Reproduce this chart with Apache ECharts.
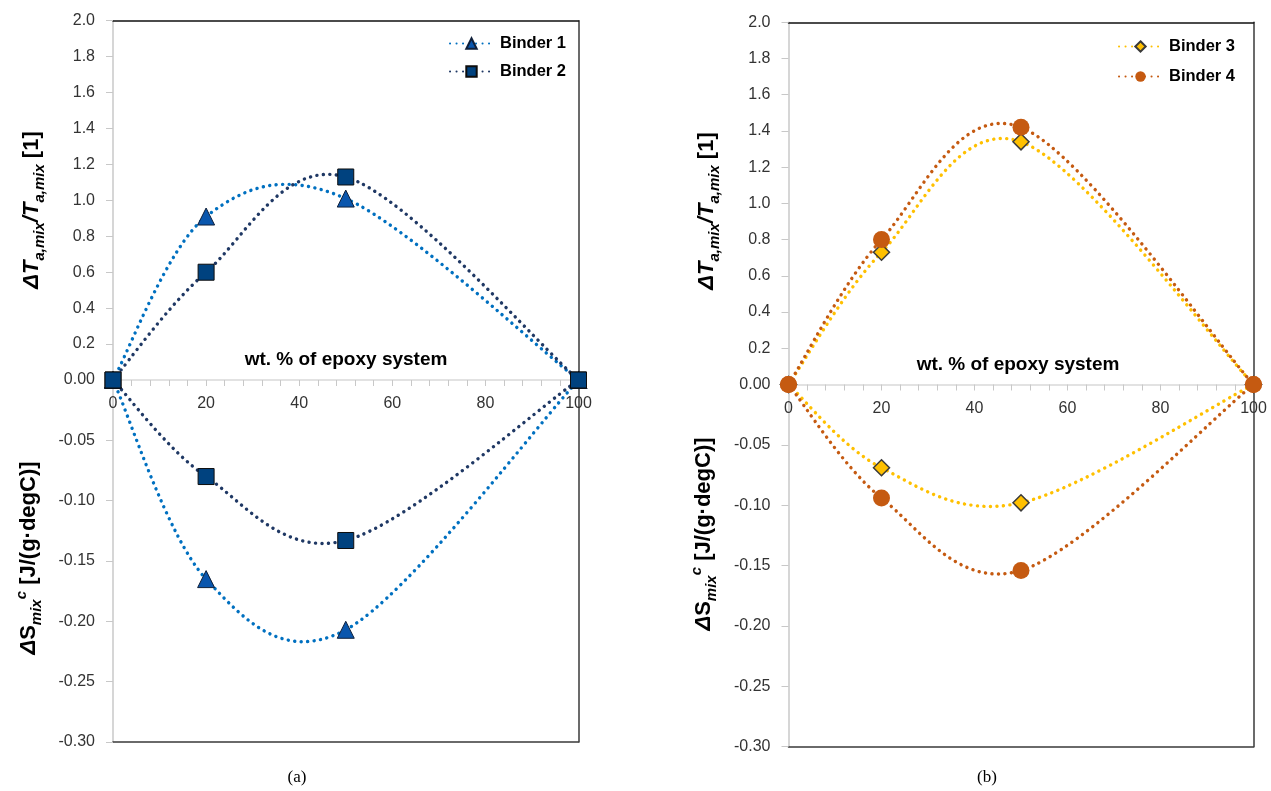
<!DOCTYPE html>
<html>
<head>
<meta charset="utf-8">
<title>Mixing effects of epoxy system content</title>
<script src="https://cdn.jsdelivr.net/npm/echarts@6/dist/echarts.min.js"></script>
<style>
  html, body { margin: 0; padding: 0; background: #fff; }
  #chart { width: 1271px; height: 791px; }
</style>
</head>
<body>
<div id="chart"></div>
<script>
// wt. % of epoxy system in the binder
const wtPct = [0, 20, 50, 100];

// ΔTa,mix / Ta,mix [1]
const binder1DT = [0, 0.91, 1.01, 0];
const binder2DT = [0, 0.60, 1.13, 0];
const binder3DT = [0, 0.73, 1.34, 0];
const binder4DT = [0, 0.80, 1.42, 0];

// ΔSmix^c [J/(g·degC)]
const binder1DS = [0, -0.165, -0.207, 0];
const binder2DS = [0, -0.080, -0.133, 0];
const binder3DS = [0, -0.069, -0.098, 0];
const binder4DS = [0, -0.094, -0.154, 0];

// axis ranges
const xRange = { min: 0, max: 100, step: 20 };
const dtRange = { min: 0, max: 2.0, step: 0.2 };
const dsRange = { min: -0.30, max: 0, step: 0.05 };

const FONT = '"Liberation Sans", Arial, sans-serif';
const AXIS_GRAY = '#c8c8c8';
const FRAME = '#3a3a3a';
const DOT_WIDTH = 3.4;
const DOTS = [0.1, 6.4];

const pairs = (ys) => wtPct.map((x, i) => [x, ys[i]]);

function bottomAxis(gridIndex, withLabels) {
  return {
    type: 'value', gridIndex, position: 'bottom',
    min: xRange.min, max: xRange.max, interval: xRange.step,
    axisLine: { show: true, onZero: false, lineStyle: { color: withLabels ? '#d9d9d9' : FRAME, width: 1.5 } },
    axisTick: { show: withLabels, length: 6, lineStyle: { color: '#c8c8c8' } },
    minorTick: { show: withLabels, splitNumber: 5, length: 6, lineStyle: { color: '#c8c8c8' } },
    axisLabel: { show: withLabels, margin: 16, color: '#333', fontSize: 16, fontFamily: FONT },
    splitLine: { show: false }
  };
}
function topAxis(gridIndex) {
  return {
    type: 'value', gridIndex, position: 'top',
    min: xRange.min, max: xRange.max,
    axisLine: { show: true, onZero: false, lineStyle: { color: '#111', width: 1.5 } },
    axisTick: { show: false }, axisLabel: { show: false }, splitLine: { show: false }
  };
}
function leftAxis(gridIndex, range, fmt) {
  return {
    type: 'value', gridIndex, position: 'left',
    min: range.min, max: range.max, interval: range.step,
    axisLine: { show: true, onZero: false, lineStyle: { color: AXIS_GRAY, width: 1.5 } },
    axisTick: { show: true, length: 7, lineStyle: { color: AXIS_GRAY } },
    axisLabel: { margin: 18, color: '#333', fontSize: 16, fontFamily: FONT, formatter: fmt },
    splitLine: { show: false }
  };
}
function rightAxis(gridIndex, range) {
  return {
    type: 'value', gridIndex, position: 'right',
    min: range.min, max: range.max,
    axisLine: { show: true, onZero: false, lineStyle: { color: FRAME, width: 1.5 } },
    axisTick: { show: false }, axisLabel: { show: false }, splitLine: { show: false }
  };
}

const dtFmt = (v) => (v === 0 ? '' : v.toFixed(1));
const dsFmt = (v) => v.toFixed(2);

const looks = {
  'Binder 1': { symbol: 'triangle', size: 17, line: '#0070c0', fill: '#0a56ad', border: '#10203a', borderWidth: 1, z: 3 },
  'Binder 2': { symbol: 'rect', size: 16, line: '#1f3864', fill: '#00427f', border: '#0d0d0d', borderWidth: 1, z: 4 },
  'Binder 3': { symbol: 'diamond', size: 16, line: '#ffc000', fill: '#ffc000', border: '#3a3a3a', borderWidth: 1.5, z: 3 },
  'Binder 4': { symbol: 'circle', size: 17, line: '#c55a11', fill: '#c55a11', border: '#c55a11', borderWidth: 0, z: 4 }
};

// Markers (and legend entry) for one binder on one pair of axes
function markerSeries(name, ys, xi, yi) {
  const look = looks[name];
  return {
    name, type: 'line', xAxisIndex: xi, yAxisIndex: yi,
    data: pairs(ys), clip: false,
    symbol: look.symbol, symbolSize: look.size,
    lineStyle: { color: look.line, width: DOT_WIDTH, type: DOTS, cap: 'round', opacity: 0 },
    itemStyle: { color: look.fill, borderColor: look.border, borderWidth: look.borderWidth },
    emphasis: { disabled: true }, z: look.z
  };
}

// Smoothed dotted trend curve through the same points (cubic Bezier, Catmull-Rom tangents)
function curveSeries(name, ys, xi, yi) {
  const look = looks[name];
  const data = pairs(ys);
  return {
    id: name + ' ' + xi + '-' + yi, type: 'custom', xAxisIndex: xi, yAxisIndex: yi,
    data, silent: true, z: 1,
    renderItem(params, api) {
      if (params.dataIndex !== 0) return null;
      const p = data.map((d) => api.coord(d));
      const n = p.length;
      const children = [];
      for (let i = 0; i < n - 1; i++) {
        const p0 = p[Math.max(i - 1, 0)], p1 = p[i], p2 = p[i + 1], p3 = p[Math.min(i + 2, n - 1)];
        children.push({
          type: 'bezierCurve',
          shape: {
            x1: p1[0], y1: p1[1],
            cpx1: p1[0] + (p2[0] - p0[0]) / 6, cpy1: p1[1] + (p2[1] - p0[1]) / 6,
            cpx2: p2[0] - (p3[0] - p1[0]) / 6, cpy2: p2[1] - (p3[1] - p1[1]) / 6,
            x2: p2[0], y2: p2[1]
          },
          style: { stroke: look.line, lineWidth: DOT_WIDTH, lineDash: DOTS, lineCap: 'round', fill: 'none' }
        });
      }
      return { type: 'group', children };
    }
  };
}

const mainTxt = { fontSize: 22, fontWeight: 'bold', fontStyle: 'italic', fontFamily: FONT, color: '#000', lineHeight: 30 };
const uprTxt = { fontSize: 22, fontWeight: 'bold', fontFamily: FONT, color: '#000', lineHeight: 30 };
const subTxt = { fontSize: 15, fontWeight: 'bold', fontStyle: 'italic', fontFamily: FONT, color: '#000', lineHeight: 13, verticalAlign: 'bottom' };
const supTxt = { fontSize: 15, fontWeight: 'bold', fontStyle: 'italic', fontFamily: FONT, color: '#000', lineHeight: 13, verticalAlign: 'top' };

function yTitle(x, y, text) {
  return {
    type: 'text', x, y, rotation: Math.PI / 2,
    style: {
      text, align: 'center', verticalAlign: 'middle',
      textAlign: 'center', textVerticalAlign: 'middle',
      rich: { m: mainTxt, u: uprTxt, s: subTxt, p: supTxt }
    }
  };
}
const dtTitle = '{m|ΔT}{s|a,mix}{m|/T}{s|a,mix}{u| [1]}';
const dsTitle = '{m|Δ}{u|S}{s|mix}{p|c}{u| [J/(g·degC)]}';

function xName(x, y) {
  return {
    type: 'text', x, y,
    style: {
      text: 'wt. % of epoxy system', align: 'center', verticalAlign: 'middle',
      textAlign: 'center', textVerticalAlign: 'middle',
      fontSize: 19, fontWeight: 'bold', fontFamily: FONT, fill: '#000'
    }
  };
}
function caption(x, y, text) {
  return {
    type: 'text', x, y,
    style: {
      text, align: 'center', verticalAlign: 'middle',
      textAlign: 'center', textVerticalAlign: 'middle',
      fontSize: 17, fontFamily: '"Liberation Serif", "Times New Roman", serif', fill: '#000'
    }
  };
}

const legendBase = {
  orient: 'vertical', itemWidth: 43, itemHeight: 13, itemGap: 11,
  textStyle: { fontSize: 16.5, fontWeight: 'bold', fontFamily: FONT, color: '#000', padding: [0, 0, 0, 2] },
  lineStyle: { opacity: 1 },
  selectedMode: false
};

const option = {
  backgroundColor: '#fff',
  animation: false,
  grid: [
    { left: 113, top: 20.7, width: 465.5, height: 359.3 },
    { left: 113, top: 380, width: 465.5, height: 362 },
    { left: 788.5, top: 22.3, width: 465, height: 362.2 },
    { left: 788.5, top: 384.5, width: 465, height: 362.2 }
  ],
  xAxis: [
    bottomAxis(0, true), topAxis(0), bottomAxis(1, false),
    bottomAxis(2, true), topAxis(2), bottomAxis(3, false)
  ],
  yAxis: [
    leftAxis(0, dtRange, dtFmt), rightAxis(0, dtRange),
    leftAxis(1, dsRange, dsFmt), rightAxis(1, dsRange),
    leftAxis(2, dtRange, dtFmt), rightAxis(2, dtRange),
    leftAxis(3, dsRange, dsFmt), rightAxis(3, dsRange)
  ],
  legend: [
    Object.assign({}, legendBase, { left: 444, top: 30, data: ['Binder 1', 'Binder 2'] }),
    Object.assign({}, legendBase, { left: 1113, top: 33, itemGap: 13, data: ['Binder 3', 'Binder 4'] })
  ],
  graphic: [
    yTitle(32, 210, dtTitle),
    yTitle(29, 558, dsTitle),
    yTitle(707, 211, dtTitle),
    yTitle(704, 534, dsTitle),
    xName(346, 360),
    xName(1018, 365),
    caption(297, 778, '(a)'),
    caption(987, 778, '(b)')
  ],
  series: [
    markerSeries('Binder 1', binder1DT, 0, 0),
    markerSeries('Binder 2', binder2DT, 0, 0),
    markerSeries('Binder 1', binder1DS, 2, 2),
    markerSeries('Binder 2', binder2DS, 2, 2),
    markerSeries('Binder 3', binder3DT, 3, 4),
    markerSeries('Binder 4', binder4DT, 3, 4),
    markerSeries('Binder 3', binder3DS, 5, 6),
    markerSeries('Binder 4', binder4DS, 5, 6),
    curveSeries('Binder 1', binder1DT, 0, 0),
    curveSeries('Binder 2', binder2DT, 0, 0),
    curveSeries('Binder 1', binder1DS, 2, 2),
    curveSeries('Binder 2', binder2DS, 2, 2),
    curveSeries('Binder 3', binder3DT, 3, 4),
    curveSeries('Binder 4', binder4DT, 3, 4),
    curveSeries('Binder 3', binder3DS, 5, 6),
    curveSeries('Binder 4', binder4DS, 5, 6)
  ]
};

const chart = echarts.init(document.getElementById('chart'), null, { renderer: 'canvas' });
chart.setOption(option);
</script>
</body>
</html>
